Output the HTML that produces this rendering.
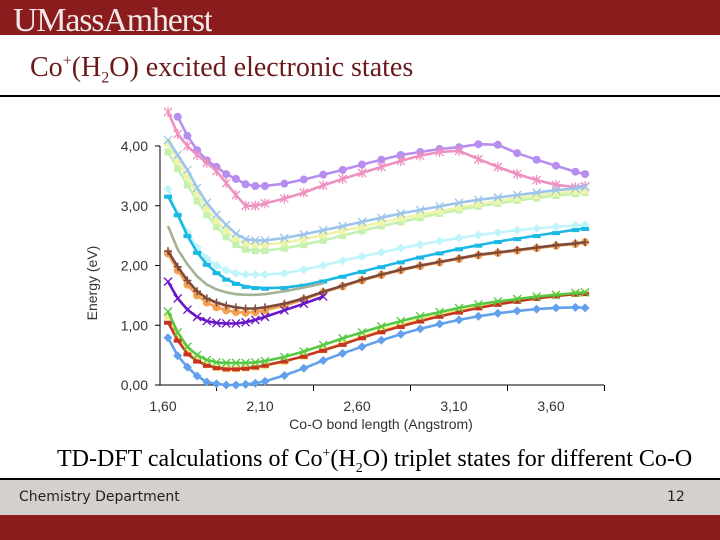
<!DOCTYPE html>
<html><head><meta charset="utf-8"><style>
body{margin:0;width:720px;height:540px;overflow:hidden;background:#fff;position:relative;font-family:"Liberation Sans",sans-serif}
.abs{position:absolute}
</style></head><body>
<div class="abs" style="left:0;top:0;width:720px;height:35px;background:#8a1c1e"></div>
<div class="abs" style="left:13px;top:2px;font-family:'Liberation Serif',serif;font-size:34px;color:#f3e6e6;letter-spacing:-1.2px;line-height:38px;height:33px;overflow:hidden">UMassAmherst</div>
<div class="abs" style="left:30px;top:52px;font-family:'Liberation Serif',serif;font-size:28px;color:#6b1a1c;white-space:nowrap">Co<sup style="font-size:16px">+</sup>(H<sub style="font-size:16px">2</sub>O) excited electronic states</div>
<div class="abs" style="left:0;top:95px;width:720px;height:2px;background:#000"></div>

<svg class="abs" style="left:0;top:0" width="720" height="440" id="chart">
<g id="axes"></g><g id="series"></g>
</svg>

<div class="abs" style="left:57px;top:446px;font-family:'Liberation Serif',serif;font-size:24px;color:#000;white-space:nowrap;letter-spacing:0px">TD-DFT calculations of Co<sup style="font-size:14px">+</sup>(H<sub style="font-size:14px">2</sub>O) triplet states for different Co-O</div>
<div class="abs" style="left:0;top:478px;width:720px;height:2px;background:#000"></div>
<div class="abs" style="left:0;top:480px;width:720px;height:35px;background:#d6d0cd"></div>
<div class="abs" style="left:19px;top:489px;font-family:'DejaVu Sans',sans-serif;font-size:14px;color:#222">Chemistry Department</div>
<div class="abs" style="left:667px;top:489px;font-family:'DejaVu Sans',sans-serif;font-size:14px;color:#222">12</div>
<div class="abs" style="left:0;top:515px;width:720px;height:25px;background:#8a1c1e"></div>

<script>
const X = [1.60,1.65,1.70,1.75,1.80,1.85,1.90,1.95,2.00,2.05,2.10,2.20,2.30,2.40,2.50,2.60,2.70,2.80,2.90,3.00,3.10,3.20,3.30,3.40,3.50,3.60,3.70,3.75];
const purpleCircles = [null,4.49,4.17,3.93,3.76,3.65,3.53,3.45,3.36,3.33,3.33,3.37,3.44,3.52,3.60,3.69,3.77,3.85,3.90,3.95,3.98,4.03,4.02,3.88,3.77,3.67,3.57,3.53];
const pinkStars = [4.57,4.20,4.00,3.85,3.72,3.58,3.38,3.18,3.00,3.00,3.04,3.12,3.22,3.34,3.45,3.55,3.65,3.75,3.84,3.90,3.92,3.78,3.65,3.53,3.43,3.35,3.31,3.33];
const lightBlue = [4.10,3.85,3.60,3.30,3.05,2.85,2.68,2.53,2.44,2.42,2.42,2.46,2.52,2.59,2.66,2.73,2.80,2.87,2.93,2.99,3.05,3.10,3.14,3.18,3.22,3.26,3.29,3.31];
const lightYellow = [4.05,3.75,3.48,3.20,2.95,2.75,2.58,2.45,2.37,2.35,2.35,2.38,2.44,2.51,2.58,2.65,2.72,2.79,2.85,2.91,2.97,3.03,3.08,3.13,3.17,3.21,3.24,3.25];
const lightGreen = [3.90,3.62,3.35,3.08,2.85,2.65,2.48,2.35,2.27,2.25,2.25,2.29,2.35,2.42,2.50,2.58,2.66,2.73,2.80,2.87,2.93,2.99,3.04,3.09,3.13,3.17,3.20,3.22];
const paleCyan = [3.28,2.86,2.55,2.30,2.12,2.00,1.92,1.87,1.85,1.85,1.85,1.87,1.93,2.00,2.08,2.15,2.22,2.29,2.35,2.41,2.46,2.51,2.55,2.59,2.62,2.65,2.67,2.68];
const cyan = [3.16,2.85,2.50,2.22,2.02,1.88,1.77,1.70,1.65,1.63,1.62,1.63,1.67,1.74,1.82,1.90,1.98,2.06,2.14,2.21,2.28,2.34,2.40,2.45,2.50,2.55,2.60,2.62];
const sage = [2.66,2.27,2.02,1.82,1.68,1.60,1.55,1.52,1.51,1.51,1.52,1.57,1.63,1.70,null,null,null,null,null,null,null,null,null,null,null,null,null,null];
const orangeCircles = [2.20,1.92,1.68,1.50,1.38,1.30,1.25,1.22,1.21,1.22,1.25,1.33,1.43,1.55,1.65,1.75,1.84,1.92,1.99,2.05,2.11,2.17,2.21,2.25,2.29,2.33,2.36,2.39];
const brownPlus = [2.24,1.98,1.75,1.57,1.45,1.38,1.33,1.30,1.28,1.28,1.30,1.36,1.45,1.56,1.66,1.76,1.85,1.93,2.00,2.06,2.12,2.18,2.22,2.26,2.30,2.34,2.37,2.39];
const violetX = [1.73,1.45,1.26,1.14,1.07,1.04,1.03,1.03,1.05,1.09,1.14,1.25,1.36,1.48,null,null,null,null,null,null,null,null,null,null,null,null,null,null];
const yellowTri = [1.15,0.80,0.56,0.42,0.34,0.29,0.27,0.27,0.28,0.30,0.32,0.39,0.48,0.59,0.70,0.81,0.92,1.01,1.10,1.18,1.25,1.31,1.37,1.42,1.46,1.50,1.53,1.54];
const redDash = [1.05,0.75,0.52,0.40,0.33,0.29,0.27,0.27,0.28,0.30,0.33,0.40,0.48,0.58,0.68,0.79,0.89,0.98,1.07,1.15,1.22,1.29,1.35,1.40,1.45,1.49,1.52,1.53];
const green = [1.23,0.88,0.64,0.50,0.42,0.38,0.37,0.37,0.37,0.38,0.40,0.47,0.56,0.67,0.78,0.88,0.98,1.07,1.15,1.22,1.29,1.35,1.40,1.44,1.48,1.51,1.54,1.55];
const blueDiamonds = [0.79,0.49,0.30,0.15,0.05,0.02,0.00,0.00,0.01,0.03,0.06,0.16,0.28,0.41,0.53,0.64,0.75,0.85,0.94,1.02,1.09,1.15,1.20,1.24,1.27,1.29,1.30,1.29];
const yTicks = [0,1,2,3,4];
const yTickLabels = ["0,00","1,00","2,00","3,00","4,00"];
const xLabelVals = [1.60,2.10,2.60,3.10,3.60];
const xLabels = ["1,60","2,10","2,60","3,10","3,60"];
const xTickVals = [1.85,2.35,2.85,3.35,3.85];

const NS="http://www.w3.org/2000/svg";
function sx(v){return 168+(v-1.6)*194;}
function sy(v){return 385-v*59.75;}
function mk(tag,attrs,parent){const e=document.createElementNS(NS,tag);for(const k in attrs)e.setAttribute(k,attrs[k]);parent.appendChild(e);return e;}
const axes=document.getElementById('axes'), ser=document.getElementById('series');
let el=mk('line',{x1:160,y1:146,x2:160,y2:385,stroke:'#000','stroke-width':1},axes);


el=mk('line',{x1:160,y1:385,x2:604,y2:385,stroke:'#000','stroke-width':1},axes);


yTicks.forEach((t,i)=>{
  let l=mk('line',{x1:155,y1:sy(t),x2:160,y2:sy(t),stroke:'#000'},axes);
  
  
  let tx=mk('text',{x:148,y:sy(t)+5,'text-anchor':'end','font-size':14,fill:'#333'},axes);
  tx.textContent=yTickLabels[i];
  
  
});
xTickVals.forEach(t=>{
  let l=mk('line',{x1:sx(t),y1:385,x2:sx(t),y2:391,stroke:'#000'},axes);
  
  
});
xLabelVals.forEach((v,i)=>{
  let tx=mk('text',{x:sx(v)-5,y:411,'text-anchor':'middle','font-size':14,fill:'#333'},axes);
  tx.textContent=xLabels[i];
  
  
});
let xt=mk('text',{x:381,y:429,'text-anchor':'middle','font-size':14,fill:'#333'},axes);
xt.textContent='Co-O bond length (Angstrom)';


let yt=mk('text',{x:97,y:283,'text-anchor':'middle','font-size':14,fill:'#333',transform:'rotate(-90 97 283)'},axes);
yt.textContent='Energy (eV)';



const series=[
 ['purple-circles',purpleCircles,'#b58ef0','circle'],
 ['pink-stars',pinkStars,'#ee90c0','star'],
 ['light-green',lightGreen,'#c4f0b0','square'],
 ['light-yellow',lightYellow,'#eef5a8','square'],
 ['light-blue',lightBlue,'#9cc4ec','x'],
 ['pale-cyan',paleCyan,'#bff4fa','diamond'],
 ['cyan',cyan,'#1cb8e4','dash'],
 ['sage',sage,'#a3b494','none'],
 ['orange-circles',orangeCircles,'#f3a050','circle'],
 ['brown-plus',brownPlus,'#7e4a3c','plus'],
 ['violet-x',violetX,'#6a14c8','x'],
 ['yellow-triangles',yellowTri,'#f6e88a','square'],
 ['red-dashes',redDash,'#c8341e','dash'],
 ['green',green,'#56c844','x'],
 ['blue-diamonds',blueDiamonds,'#63a0ec','diamond']
];
series.forEach(([name,vals,col,m])=>{
  const g=mk('g',{},ser);
  
  
  let d='',pen=false;
  vals.forEach((v,i)=>{if(v===null){pen=false;return;}d+=(pen?'L':'M')+sx(X[i]).toFixed(1)+' '+sy(v).toFixed(1)+' ';pen=true;});
  const p=mk('path',{d:d,fill:'none',stroke:col,'stroke-width':2.6,'stroke-linejoin':'round'},g);
  
  
  vals.forEach((v,i)=>{
    if(v===null||m==='none')return;
    const cx=sx(X[i]),cy=sy(v);let e;
    if(m==='circle')e=mk('circle',{cx:cx,cy:cy,r:4,fill:col},g);
    else if(m==='square')e=mk('rect',{x:cx-3.5,y:cy-3.5,width:7,height:7,fill:col},g);
    else if(m==='diamond')e=mk('path',{d:`M${cx} ${cy-4.5}L${cx+4.5} ${cy}L${cx} ${cy+4.5}L${cx-4.5} ${cy}Z`,fill:col},g);
    else if(m==='dash')e=mk('rect',{x:cx-4,y:cy-1.5,width:8,height:4,fill:col},g);
    else if(m==='plus')e=mk('path',{d:`M${cx-4} ${cy}H${cx+4}M${cx} ${cy-4}V${cy+4}`,stroke:col,'stroke-width':1.5},g);
    else if(m==='star')e=mk('path',{d:`M${cx-4} ${cy-4}L${cx+4} ${cy+4}M${cx+4} ${cy-4}L${cx-4} ${cy+4}M${cx} ${cy-5}V${cy+5}`,stroke:col,'stroke-width':1.3},g);
    else e=mk('path',{d:`M${cx-4} ${cy-4}L${cx+4} ${cy+4}M${cx+4} ${cy-4}L${cx-4} ${cy+4}`,stroke:col,'stroke-width':1.3},g);
    
    
  });
});
</script>
</body></html>
